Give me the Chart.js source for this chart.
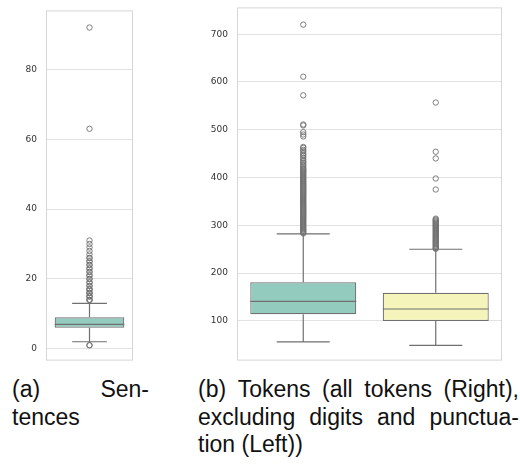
<!DOCTYPE html>
<html>
<head>
<meta charset="utf-8">
<script src="https://cdn.jsdelivr.net/npm/chart.js@4/dist/chart.umd.min.js"></script>
<style>
  body { margin: 0; width: 520px; height: 464px; background: #fff; position: relative; overflow: hidden;
         font-family: "Liberation Sans", Arial, sans-serif; }
  canvas { position: absolute; }
  .cap { position: absolute; font-size: 23px; line-height: 27.5px; color: #111; }
  .cap .row { display: flex; justify-content: space-between; white-space: nowrap; }
  .cap .row.last { justify-content: flex-start; }
</style>
</head>
<body>
<!-- the y scale keeps ~14px of label padding above and below the plot, so the canvases start a little above the page -->
<canvas id="sentChart" width="140" height="379" style="left:0px; top:-4px"></canvas>
<canvas id="tokChart" width="320" height="382" style="left:190px; top:-7px"></canvas>

<div class="cap" style="left:12px; top:376px; width:137px;">
  <div class="row"><span>(a)</span><span>Sen-</span></div>
  <div class="row last"><span>tences</span></div>
</div>
<div class="cap" style="left:198px; top:376px; width:321px;">
  <div class="row"><span>(b)</span><span>Tokens</span><span>(all</span><span>tokens</span><span>(Right),</span></div>
  <div class="row"><span>excluding</span><span>digits</span><span>and</span><span>punctua-</span></div>
  <div class="row last"><span>tion (Left))</span></div>
</div>

<script>
// (a) sentence lengths
const sentLabels = ["Sentences"];
const sentQ1 = [6];
const sentMedian = [7];
const sentQ3 = [9];
const sentWhiskLo = [2];
const sentWhiskHi = [13];
// lengths are whole numbers, the common ones show up several times
const sentOutliers = [[1, 1, 14, 14, 14, 15, 15, 15, 16, 16, 16, 17, 17, 17, 18, 18, 19, 19, 20, 20, 21, 21,
  22, 22, 23, 23, 24, 24, 25, 25, 26, 26, 27, 28, 29, 30, 31, 63, 92]];
const sentTicks = [0, 20, 40, 60, 80];

// (b) token counts, left box then right box
const tokLabels = ["Excluding digits and punctuation", "All tokens"];
const tokQ1 = [114, 100];
const tokMedian = [141, 125];
const tokQ3 = [181, 159];
const tokWhiskLo = [56, 49];
const tokWhiskHi = [282, 250];
const tokOutliersLeft = [283, 285, 287, 289, 291, 293, 295, 297, 299, 301, 303, 305, 307, 309, 311, 313,
  315, 317, 319, 321, 323, 325, 327, 329, 331, 333, 335, 337, 339, 341, 343, 345, 347, 349, 351, 353,
  355, 357, 359, 361, 363, 365, 367, 369, 371, 373, 375, 377, 379, 381, 383, 385, 387, 389, 391, 393,
  395, 397, 399, 401, 403, 405, 407, 409, 411, 413, 415, 417, 419, 422, 425, 428, 431, 434, 437, 441,
  445, 448, 451, 455, 458, 462, 464, 486, 490, 495, 509, 511, 572, 611, 720];
const tokOutliersRight = [251, 252, 254, 256, 258, 260, 262, 264, 266, 268, 270, 272, 274, 276, 278, 280,
  282, 284, 286, 288, 290, 292, 294, 296, 298, 300, 302, 304, 306, 308, 310, 312, 314, 375, 398, 440,
  454, 557];
const tokTicks = [100, 200, 300, 400, 500, 600, 700];

const boxColors = ["#94cbbf", "#f5f5bb"];
const LINE = "#707070";

// whiskers behind the boxes, medians on top, light frame round the plot
const boxLines = {
  id: "boxLines",
  beforeDatasetsDraw(chart, args, opts) {
    const x = chart.scales.x, y = chart.scales.y, ctx = chart.ctx;
    const bars = chart.getDatasetMeta(0).data;
    ctx.save();
    ctx.strokeStyle = LINE;
    ctx.lineWidth = 1.2;
    opts.lo.forEach((lo, i) => {
      const cx = x.getPixelForValue(i);
      const half = bars[i].width / 4;
      [[opts.q1[i], lo], [opts.q3[i], opts.hi[i]]].forEach(([a, b]) => {
        ctx.beginPath();
        ctx.moveTo(cx, y.getPixelForValue(a));
        ctx.lineTo(cx, y.getPixelForValue(b));
        ctx.moveTo(cx - half, y.getPixelForValue(b));
        ctx.lineTo(cx + half, y.getPixelForValue(b));
        ctx.stroke();
      });
    });
    ctx.restore();
  },
  afterDatasetsDraw(chart, args, opts) {
    const y = chart.scales.y, ctx = chart.ctx;
    const bars = chart.getDatasetMeta(0).data;
    ctx.save();
    ctx.strokeStyle = LINE;
    ctx.lineWidth = 1.2;
    opts.median.forEach((m, i) => {
      const b = bars[i];
      const py = y.getPixelForValue(m);
      ctx.beginPath();
      ctx.moveTo(b.x - b.width / 2, py);
      ctx.lineTo(b.x + b.width / 2, py);
      ctx.stroke();
    });
    const a = chart.chartArea;
    ctx.strokeStyle = "#d6d6d6";
    ctx.lineWidth = 1;
    ctx.strokeRect(a.left + 0.5, a.top + 0.5, a.right - a.left - 1, a.bottom - a.top - 1);
    ctx.restore();
  }
};

function boxChart(id, labels, q1, median, q3, lo, hi, outliers, yMin, yMax, ticks, axisW, padRight) {
  const datasets = [{
    type: "bar",
    data: labels.map((l, i) => [q1[i], q3[i]]),
    backgroundColor: labels.map((l, i) => boxColors[i]),
    borderColor: LINE,
    borderWidth: 1.2,
    borderSkipped: false,
    barPercentage: 0.8,
    categoryPercentage: 1
  }];
  outliers.forEach((vals, i) => {
    datasets.push({
      type: "line",
      showLine: false,
      data: vals.map(v => ({ x: labels[i], y: v })),
      pointRadius: 2.7,
      pointBorderWidth: 0.9,
      pointBorderColor: LINE,
      pointBackgroundColor: "rgba(0,0,0,0)"
    });
  });

  return new Chart(document.getElementById(id), {
    type: "bar",
    data: { labels: labels, datasets: datasets },
    options: {
      responsive: false,
      devicePixelRatio: 1,
      animation: false,
      layout: { padding: { top: 0, bottom: 0, left: 0, right: padRight } },
      plugins: {
        legend: { display: false },
        tooltip: { enabled: false },
        boxLines: { q1: q1, q3: q3, median: median, lo: lo, hi: hi }
      },
      scales: {
        x: { display: false, offset: true },
        y: {
          min: yMin,
          max: yMax,
          afterBuildTicks: s => { s.ticks = ticks.map(v => ({ value: v })); },
          afterFit: s => { s.width = axisW; },
          border: { display: false },
          grid: { color: "#e2e2e2", lineWidth: 1, drawTicks: false },
          ticks: { padding: 9, color: "#333", font: { family: "DejaVu Sans", size: 9 } }
        }
      }
    },
    plugins: [boxLines]
  });
}

boxChart("sentChart", sentLabels, sentQ1, sentMedian, sentQ3, sentWhiskLo, sentWhiskHi,
  sentOutliers, -3.4, 96.9, sentTicks, 46, 7);

boxChart("tokChart", tokLabels, tokQ1, tokMedian, tokQ3, tokWhiskLo, tokWhiskHi,
  [tokOutliersLeft, tokOutliersRight], 17, 756, tokTicks, 47, 8);
</script>
</body>
</html>
